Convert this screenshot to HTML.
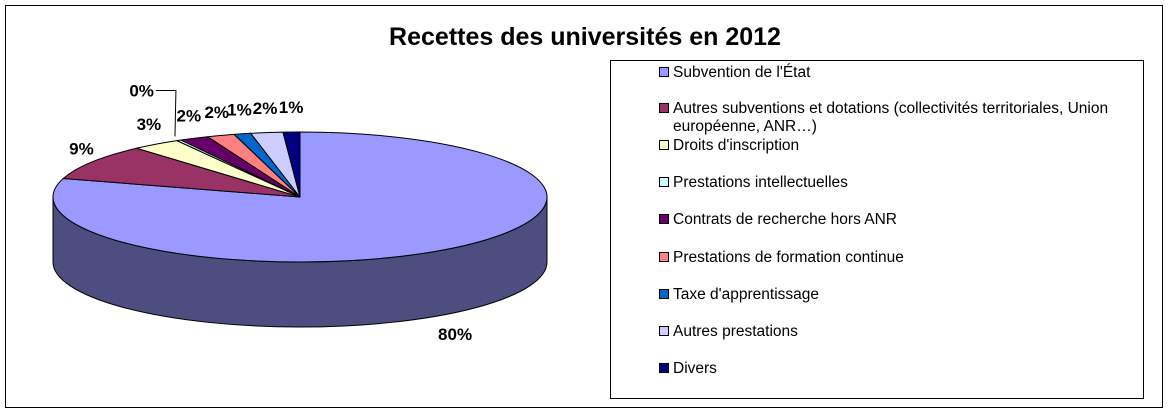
<!DOCTYPE html>
<html><head><meta charset="utf-8"><style>
body{margin:0;background:#fff}
svg{display:block;font-family:"Liberation Sans",Arial,sans-serif}
</style></head><body>
<svg id="c" width="1168" height="413">
<rect x="0" y="0" width="1168" height="413" fill="#fff"/>
<rect x="5.5" y="5.5" width="1157" height="402" fill="#fff" stroke="#000"/>
<text x="585" y="45" text-anchor="middle" font-size="25" font-weight="bold">Recettes des universités en 2012</text>
<rect x="610.5" y="60.5" width="533" height="338" fill="#fff" stroke="#000"/>
<g id="pie"></g>
<g id="legend"></g>
</svg>
<script>
const categories=["Subvention de l'État","Autres subventions et dotations (collectivités territoriales, Union|européenne, ANR…)","Droits d'inscription","Prestations intellectuelles","Contrats de recherche hors ANR","Prestations de formation continue","Taxe d'apprentissage","Autres prestations","Divers"];
const values=[79.6,8.9,3.2,0.3,1.9,1.8,1.1,2.1,1.1];
const labels=["80%","9%","3%","0%","2%","2%","1%","2%","1%"];
const colors=["#9999FF","#993366","#FFFFCC","#CCFFFF","#660066","#FF8080","#0066CC","#CCCCFF","#000080"];
const NS="http://www.w3.org/2000/svg";
const cx=300,cy=197,rx=247,ry=65,depth=65;
const pie=document.getElementById('pie');
function mk(t,a,p){const e=document.createElementNS(NS,t);for(const k in a)e.setAttribute(k,a[k]);(p||pie).appendChild(e);return e;}
function pt(t,dy){return [cx+rx*Math.sin(t),cy-ry*Math.cos(t)+(dy||0)];}
function dark(h){const n=parseInt(h.slice(1),16);const r=(n>>16)&255,g=(n>>8)&255,b=n&255;return `rgb(${Math.round(r*0.5)},${Math.round(g*0.5)},${Math.round(b*0.5)})`;}
const total=values.reduce((a,b)=>a+b,0);
let cum=0;const ang=[];
values.forEach(v=>{const a=cum/total*2*Math.PI;cum+=v;ang.push([a,cum/total*2*Math.PI]);});
ang.forEach(([a,b],i)=>{
  const s=Math.max(a,Math.PI/2),e=Math.min(b,3*Math.PI/2);
  if(e<=s)return;
  const p1=pt(s),p2=pt(e),p3=pt(e,depth),p4=pt(s,depth);
  const large=(e-s)>Math.PI?1:0;
  const el=mk('path',{d:`M${p1}A${rx},${ry} 0 ${large} 1 ${p2}L${p3}A${rx},${ry} 0 ${large} 0 ${p4}Z`,fill:dark(colors[i]),stroke:'#000','stroke-width':1});
  
  
});
ang.forEach(([a,b],i)=>{
  if(b-a<=0)return;
  const p1=pt(a),p2=pt(b);const large=(b-a)>Math.PI?1:0;
  const el=mk('path',{d:`M${cx},${cy}L${p1}A${rx},${ry} 0 ${large} 1 ${p2}Z`,fill:colors[i],stroke:'#000','stroke-width':1,'stroke-linejoin':'round'});
  
  
});
ang.forEach(([a,b],i)=>{
  const m=(a+b)/2;
  let x=cx+rx*1.05*Math.sin(m);
  let y=cy-(ry+25)*Math.cos(m)+6;
  if(Math.cos(m)<0)y+=depth;
  if(values[i]<0.5){
    const ex=pt(m);
    const lx=x-5,ly=y-28;
    const ln=mk('polyline',{points:`${ex[0]-4},${ex[1]-4} ${lx+8},${ly-6} ${lx-12},${ly-6}`,fill:'none',stroke:'#000'});
    
    
    const t=mk('text',{x:lx-14,y:ly,'text-anchor':'end','font-size':17,'font-weight':'bold'});t.textContent=labels[i];
    
    
    return;
  }
  const t=mk('text',{x:x,y:y,'text-anchor':'middle','font-size':17,'font-weight':'bold'});
  t.textContent=labels[i];
  
  
});
const lg=document.getElementById('legend');
const ys=[72,108,145,182,219,257,294,331,368];
categories.forEach((c,i)=>{
  const sq=mk('rect',{x:659.5,y:ys[i]-4.5,width:9,height:9,fill:colors[i],stroke:'#000'},lg);
  
  
  const lines=c.split('|');
  lines.forEach((ln,j)=>{
    const t=mk('text',{x:673,y:ys[i]+5+j*18,'font-size':15.5},lg);
    t.textContent=ln;
    
    
  });
});
</script>
</body></html>
